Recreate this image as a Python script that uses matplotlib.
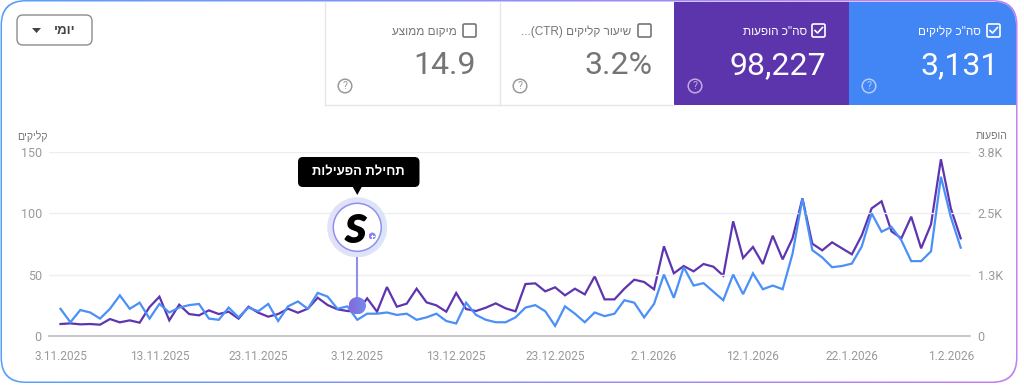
import numpy as np
import pandas as pd
import matplotlib
matplotlib.use('Agg')
import matplotlib.pyplot as plt
import matplotlib.dates as mdates
from matplotlib.patches import Circle, FancyBboxPatch, Polygon, Rectangle

W, H = 1024, 390

clicks = [22, 11, 21, 19, 14, 22, 33, 22, 27, 14, 26, 19, 23, 25, 26, 14, 13, 23, 15, 23,
          20, 26, 12, 24, 28, 22, 35, 32, 22, 24, 13, 18, 18, 19, 17, 18, 13, 15, 18, 12,
          10, 27, 17, 13, 11, 11, 15, 23, 25, 20, 8, 24, 18, 11, 19, 16, 18, 29, 27, 15,
          26, 50, 31, 56, 41, 43, 36, 29, 50, 34, 51, 38, 41, 38, 67, 112, 70, 64, 56, 57,
          59, 73, 100, 85, 89, 78, 61, 61, 69, 130, 97, 72]
impressions = [239, 252, 232, 239, 225, 341, 273, 314, 266, 586, 798, 314, 634, 443, 416, 518,
               443, 491, 348, 593, 470, 389, 443, 552, 470, 552, 777, 627, 539, 505, 491, 764,
               491, 995, 593, 655, 961, 682, 620, 491, 873, 545, 505, 573, 661, 559, 498, 1057,
               1070, 907, 989, 825, 961, 845, 1214, 743, 743, 961, 1145, 1098, 948, 1827, 1275,
               1425, 1316, 1466, 1411, 1227, 2339, 1589, 1814, 1466, 2045, 1561, 1991, 2809,
               1882, 1745, 1909, 1786, 1664, 2052, 2604, 2748, 2134, 1991, 2434, 1786, 2277,
               3607, 2604, 1991]
dates = pd.date_range('2025-11-03', periods=len(clicks))

tick_dates = ['2025-11-03', '2025-11-13', '2025-11-23', '2025-12-03', '2025-12-13',
              '2025-12-23', '2026-01-02', '2026-01-12', '2026-01-22', '2026-02-01']
tick_labels = ['3.11.2025', '13.11.2025', '23.11.2025', '3.12.2025', '13.12.2025',
               '23.12.2025', '2.1.2026', '12.1.2026', '22.1.2026', '1.2.2026']
clicks_ticks = [0, 50, 100, 150]
impr_ticks = [0, 1250, 2500, 3750]
impr_labels = ['0', '1.3K', '2.5K', '3.8K']

card_labels = ['סה"כ קליקים', 'סה"כ הופעות', 'שיעור קליקים', 'מיקום ממוצע']
card_values = ['3,131', '98,227', '3.2%', '14.9']
start_date = '2025-12-03'
start_clicks = 24.5

BLUE = '#4285f4'
PURPLE = '#5e35b1'
GREY = '#9a9a9a'
DARK = '#757575'
HEB = ['Liberation Sans']
NUM = ['Roboto']


def heb(s):
    # matplotlib has no bidi, so Hebrew goes in visual order
    return s[::-1]


def px_axes(zorder):
    a = fig.add_axes([0, 0, 1, 1], zorder=zorder)
    a.set_xlim(0, W)
    a.set_ylim(H, 0)
    a.axis('off')
    a.patch.set_alpha(0)
    return a


def gradient(a, x0, x1, y0, y1, c0, c1, clip):
    c0 = np.array(matplotlib.colors.to_rgb(c0))
    c1 = np.array(matplotlib.colors.to_rgb(c1))
    t = np.linspace(0, 1, 256)[None, :, None]
    im = a.imshow(c0 + (c1 - c0) * t, extent=(x0, x1, y1, y0), aspect='auto', zorder=clip.get_zorder())
    a.add_patch(clip)
    clip.set_visible(False)
    im.set_clip_path(clip)
    a.set_xlim(0, W)
    a.set_ylim(H, 0)


def rounded(x, y, w, h, r, **kw):
    return FancyBboxPatch((x, y), w, h, boxstyle='round,pad=0,rounding_size=%g' % r, **kw)


fig = plt.figure(figsize=(W / 100, H / 100), dpi=100)
bg = px_axes(0)

# gradient frame
gradient(bg, 0, 1018, 0, 383, '#5a9fff', '#c47ff0', rounded(0.5, 0, 1017, 383, 25))
inner = rounded(2, 1.5, 1014, 380, 24, fc='white', ec='none', zorder=2)
bg.add_patch(inner)

# metric cards
card_x = [(849, 1016), (674, 849), (500, 674), (325, 500)]
check_x = [987, 812, 638, 463]
label_r = [981, 807, 631, 457]
value_r = [999, 826, 652, 476]
help_x = [869, 695, 520, 345]
card_fc = [BLUE, '#5c35ad', 'white', 'white']

for i in range(4):
    x0, x1 = card_x[i]
    on = i < 2
    fg = 'white' if on else DARK
    r = Rectangle((x0, 1.5), x1 - x0, 103.5, fc=card_fc[i], ec='none', zorder=3)
    bg.add_patch(r)
    r.set_clip_path(inner)
    if not on:
        bg.plot([x0, x0], [1.5, 105], color='#e6e6e6', lw=1, zorder=4)
        bg.plot([x0, x1], [105, 105], color='#e6e6e6', lw=1, zorder=4)
    bg.add_patch(rounded(check_x[i], 24, 13, 13, 1.5, fc='none', ec=fg, lw=1.2, zorder=5))
    if on:
        cx = check_x[i]
        bg.plot([cx + 3, cx + 5.5, cx + 10.5], [30.5, 33, 27.5], color='white', lw=1.2, zorder=5)
    label = heb(card_labels[i])
    if i == 2:
        label = '...(CTR) ' + label
    bg.text(label_r[i], 32, label, ha='right', va='center', color=fg, fontsize=8.5, family=HEB, zorder=5)
    bg.text(value_r[i], 66, card_values[i], ha='right', va='center', color=fg, fontsize=23, family=NUM, zorder=5)
    help_c = '#ffffff' if on else '#9a9a9a'
    bg.add_patch(Circle((help_x[i], 86), 6.8, fc='none', ec=help_c, lw=1.1, alpha=0.6 if on else 1, zorder=5))
    bg.text(help_x[i], 86.3, '?', ha='center', va='center', color=help_c, alpha=0.6 if on else 1,
            fontsize=7.5, family=NUM, zorder=5)

# dropdown
bg.add_patch(rounded(17, 15, 75, 30, 6, fc='white', ec='#8c8c8c', lw=1, zorder=5))
bg.text(65, 30.5, heb('יומי'), ha='center', va='center', color='#444444', fontsize=9.5,
        family=HEB, weight='bold', zorder=6)
bg.add_patch(Polygon([(32, 28), (41, 28), (36.5, 33)], fc='#444444', ec='none', zorder=6))

# chart
left, right = 48.7, 970
top, bottom = 152.3, 335.7
ax = fig.add_axes([left / W, 1 - bottom / H, (right - left) / W, (bottom - top) / H], zorder=2)
ax2 = ax.twinx()
ax.patch.set_alpha(0)
ax2.patch.set_alpha(0)
ax.set_zorder(3)
ax2.set_zorder(2)

ax2.plot(dates, impressions, color=PURPLE, lw=1.6, solid_joinstyle='miter')
ax.plot(dates, clicks, color='#4a90f7', lw=1.6, solid_joinstyle='miter')

step = (960.7 - 60.5) / 91
xmin = mdates.date2num(dates[0]) - (60.5 - left) / step
xmax = mdates.date2num(dates[-1]) + (right - 960.7) / step
ax.set_xlim(xmin, xmax)
ax.set_ylim(0, 150)
ax2.set_ylim(0, 3750)
ax.set_yticks(clicks_ticks)
ax2.set_yticks(impr_ticks)
ax2.set_yticklabels(impr_labels)
ax.set_xticks(pd.to_datetime(tick_dates))
ax.set_xticklabels(tick_labels)
for sp in list(ax.spines.values()) + list(ax2.spines.values()):
    sp.set_visible(False)
ax.spines['bottom'].set_visible(True)
ax.spines['bottom'].set_color('#bdbdbd')
ax.spines['bottom'].set_linewidth(1.2)
ax.grid(axis='y', color='#eeeeee', lw=1)
ax.set_axisbelow(True)
ax.tick_params(length=0, labelcolor=GREY, labelsize=8.6)
ax.tick_params(axis='x', pad=10)
ax.tick_params(axis='y', pad=5, labelsize=9)
ax2.tick_params(length=0, labelcolor=GREY, labelsize=9, pad=5.5)
for t in ax.get_xticklabels() + ax.get_yticklabels() + ax2.get_yticklabels():
    t.set_family(NUM)

bg.text(47.5, 136, heb('קליקים'), ha='right', va='center', color=DARK, fontsize=7.6, family=HEB, zorder=5)
bg.text(1008, 136, heb('הופעות'), ha='right', va='center', color=DARK, fontsize=7.6, family=HEB, zorder=5)

# start-of-activity callout, placed from the data position
top_ax = px_axes(5)
fig.canvas.draw()
mx, my = ax.transData.transform((mdates.date2num(pd.Timestamp(start_date)), start_clicks))
my = H - my
ring_y = 227.3

top_ax.plot([mx, mx], [ring_y + 24, my], color='#8f90ee', lw=1.5, zorder=1)
gradient(top_ax, mx - 30, mx + 30, ring_y - 30, ring_y + 30, '#e4e0f8', '#dbe6fb',
         Circle((mx, ring_y), 30, zorder=1))
top_ax.add_patch(Circle((mx, ring_y), 24, fc='white', ec='#8f90ee', lw=1.1, zorder=2))
top_ax.text(mx - 1.5, ring_y - 0.5, 's', ha='center', va='center', color='black', fontsize=40,
            family='Lato', weight='black', style='italic', zorder=3)
gradient(top_ax, mx + 11.5, mx + 18.5, ring_y + 5, ring_y + 12, '#a66df0', '#6f9cf8',
         Circle((mx + 15, ring_y + 8.7), 3.5, zorder=3))
top_ax.plot([mx + 13.5, mx + 16.5], [ring_y + 8.7, ring_y + 8.7], color='white', lw=0.7, zorder=4)
top_ax.plot([mx + 15, mx + 15], [ring_y + 7.2, ring_y + 10.2], color='white', lw=0.7, zorder=4)
gradient(top_ax, mx - 8.7, mx + 8.7, my - 8.7, my + 8.7, '#8a68d8', '#6f8cf0',
         Circle((mx, my), 8.7, zorder=3))

top_ax.add_patch(rounded(298, 157, 121.5, 30, 5, fc='black', ec='none', zorder=3))
top_ax.add_patch(Polygon([(mx - 5, 186), (mx + 5, 186), (mx, 195)], fc='black', ec='none', zorder=3))
top_ax.text(358.5, 172, heb('תחילת הפעילות'), ha='center', va='center', color='white',
            fontsize=9.4, family=HEB, weight='bold', zorder=4)

fig.savefig('out.png', dpi=100)
